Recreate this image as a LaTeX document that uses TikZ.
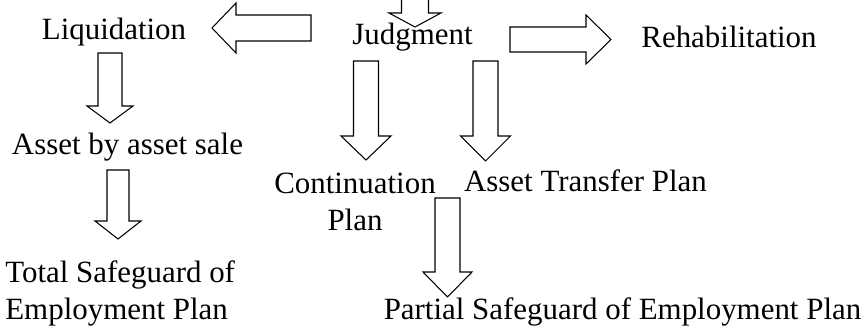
\documentclass[tikz,border=0pt]{standalone}
\usepackage{fontspec}
\setmainfont{Liberation Serif}
\usepackage{tikz}

% hollow block arrow: tail x, tail y, angle, length, head length, shaft half width, head half width
\newcommand{\hollowarrow}[7]{%
  \draw[outline, shift={(#1,#2)}, rotate=#3]
    (0,-#6) -- ({#4-#5},-#6) -- ({#4-#5},-#7) -- (#4,0)
    -- ({#4-#5},#7) -- ({#4-#5},#6) -- (0,#6) -- cycle;}

\begin{document}
\begin{tikzpicture}[x=0.02cm, y=-0.02cm,
    every node/.style={font=\fontsize{17.6}{21.6}\selectfont, inner sep=0pt},
    label/.style={anchor=base},
    outline/.style={draw=black, line width=0.6pt, fill=white}]

    \useasboundingbox (0,0) rectangle (867,327);
    \clip (0,0) rectangle (867,327);

    % Arrow coming into the judgment
    \hollowarrow{415}{-30}{-90}{57}{14}{13.5}{26}

    % Horizontal arrows out of the judgment
    \hollowarrow{311}{28}{180}{99}{24}{13}{25}
    \hollowarrow{510}{39.5}{0}{101}{25}{12.5}{24.5}

    % Liquidation branch
    \hollowarrow{110}{53}{-90}{70}{17}{12}{23}
    \hollowarrow{118}{170}{-90}{69}{18}{11}{23}

    % Plans decided by the judgment
    \hollowarrow{366}{61}{-90}{99}{24}{12.5}{25}
    \hollowarrow{485.5}{61}{-90}{100}{25}{12.5}{25}
    \hollowarrow{447.5}{198}{-90}{99}{25}{12.5}{24.5}

    % Outcomes of the judgment
    \node[label] (liq) at (114,40) {Liquidation};
    \node[label] (judg) at (412.5,45) {Judgment};
    \node[label] (rehab) at (729,47.5) {Rehabilitation};

    % Second level (base of a two-line node is its last line)
    \node[label] (sale) at (127.5,155) {Asset by asset sale};
    \node[label, align=center] (cont) at (355,231) {Continuation\\Plan};
    \node[label] (transfer) at (585.5,192) {Asset Transfer Plan};

    % Employment plans
    \node[anchor=base west, align=left] (total) at (5,320) {Total Safeguard of\\Employment Plan};
    \node[label] (partial) at (622.5,320) {Partial Safeguard of Employment Plan};

\end{tikzpicture}
\end{document}
